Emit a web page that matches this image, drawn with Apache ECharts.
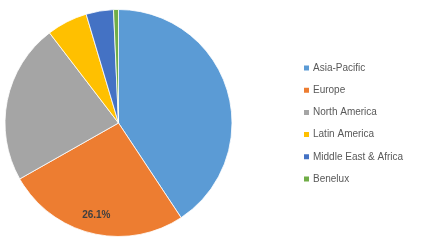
<!DOCTYPE html>
<html><head><meta charset="utf-8">
<script src="https://cdn.jsdelivr.net/npm/echarts@6/dist/echarts.min.js"></script>
<style>html,body{margin:0;padding:0;background:#fff}#c{width:422px;height:247px}</style>
</head><body><div id="c"></div>
<script>
const categories = ['Asia-Pacific','Europe','North America','Latin America','Middle East & Africa','Benelux'];
const values = [40.7, 26.1, 22.8, 5.8, 3.9, 0.7];
const colors = ['#5B9BD5','#ED7D31','#A5A5A5','#FFC000','#4472C4','#70AD47'];
const labelled = [1];

const chart = echarts.init(document.getElementById('c'), null, {renderer:'canvas'});
const data = categories.map((n,i)=>({name:n, value:values[i], itemStyle:{color:colors[i]}}));
chart.setOption({
  animation:false,
  legend:{
    orient:'vertical', left:297, top:58,
    itemWidth:7, itemHeight:7, itemGap:12.2,
    icon:'rect',
    textStyle:{fontFamily:'Liberation Sans', fontSize:10, color:'#595959', lineHeight:10, padding:[0,0,0,-2]},
    data:categories
  },
  series:[
    {type:'pie', center:[118.5,123], radius:[0,113.5], startAngle:90, clockwise:true,
     label:{show:false}, labelLine:{show:false},
     itemStyle:{borderColor:'#fff', borderWidth:0.8},
     emphasis:{disabled:true}, data:data},
    {type:'pie', center:[118.5,123], radius:[71,113], startAngle:90, clockwise:true, silent:true,
     legendHoverLink:false,
     itemStyle:{color:'rgba(0,0,0,0)'},
     label:{show:true, position:'inside', formatter:p=>labelled.includes(p.dataIndex)?values[p.dataIndex].toFixed(1)+'%':'',
            fontFamily:'Liberation Sans', fontWeight:'bold', fontSize:10, color:'#404040'},
     labelLine:{show:false},
     emphasis:{disabled:true},
     data:categories.map((n,i)=>({name:'_'+n, value:values[i]})),
    }
  ]
});
</script></body></html>
